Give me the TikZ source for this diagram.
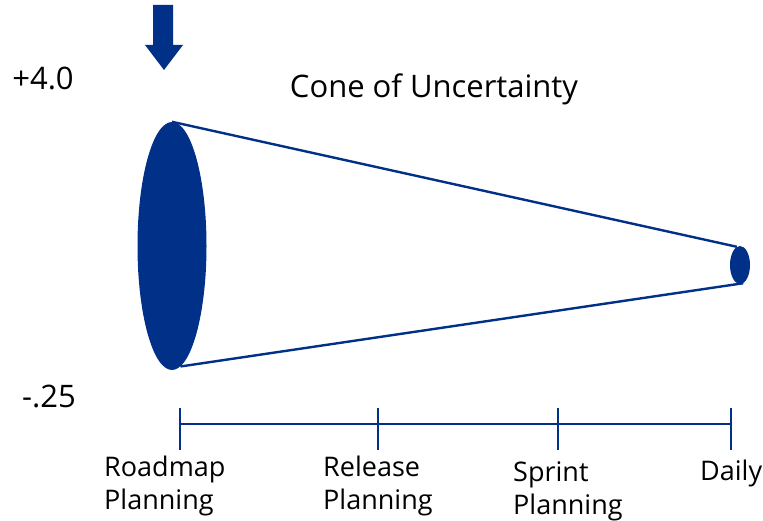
\documentclass[tikz,border=0pt]{standalone}
\usepackage{fontspec}
\setmainfont{Open Sans}
\usetikzlibrary{shapes.geometric}
\definecolor{conehue}{RGB}{0,48,135}

\begin{document}
\begin{tikzpicture}[x=1pt,y=-1pt,
  coneline/.style={draw=conehue, line width=2.4pt},
  blob/.style={ellipse, fill=conehue, inner sep=0pt},
  lbl/.style={font=\fontsize{27}{33}\selectfont, align=left, anchor=north west, inner sep=0pt}]
\useasboundingbox (0,0) rectangle (763,521);

% the cone
\node[blob, minimum width=69pt, minimum height=248pt] (wide) at (172,246) {};
\node[blob, minimum width=20pt, minimum height=38pt] (narrow) at (740,265) {};
\draw[coneline] (wide.north) -- (narrow.100);
\draw[coneline] (wide.-86) -- (narrow.-80);

% big arrow on top
\fill[conehue] (153,5) -- (173,5) -- (173,45) -- (183,45) -- (164,70) -- (145,45) -- (153,45) -- cycle;

\node[font=\fontsize{31}{36}\selectfont] (title) at (434,89) {Cone of Uncertainty};
\node[font=\fontsize{31}{36}\selectfont] (top) at (43,78) {+4.0};
\node[font=\fontsize{31}{36}\selectfont] (bottom) at (49,396) {-.25};

% timeline
\coordinate (roadmap) at (180,424);
\coordinate (release) at (378,424);
\coordinate (sprint) at (558,424);
\coordinate (daily) at (731,424);
\draw[coneline, line width=2.2pt] (roadmap) -- (daily);
\foreach \p in {roadmap,release,sprint,daily}
  \draw[coneline, line width=2.2pt] ([yshift=-26pt]\p) -- ([yshift=16pt]\p);

\node[lbl] (roadmaptxt) at (104,456) {Roadmap\\Planning};
\node[lbl] (releasetxt) at (323,456) {Release\\Planning};
\node[lbl] (sprinttxt) at (513,461) {Sprint\\Planning};
\node[lbl] (dailytxt) at (700,460) {Daily};

\end{tikzpicture}
\end{document}
